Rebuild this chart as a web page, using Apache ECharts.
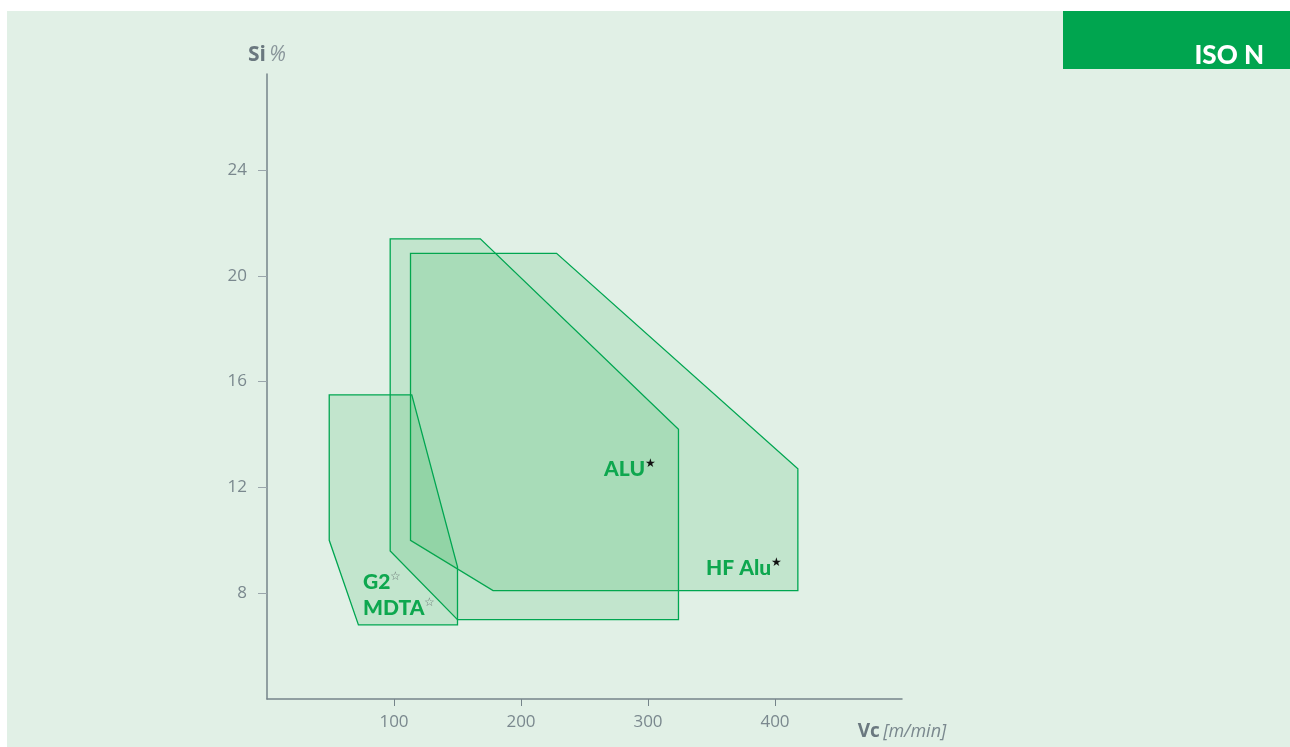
<!DOCTYPE html>
<html>
<head>
<meta charset="utf-8">
<script src="https://cdn.jsdelivr.net/npm/echarts@6/dist/echarts.min.js"></script>
<style>html,body{margin:0;padding:0;background:#fff}#c{width:1290px;height:747px}</style>
</head>
<body>
<div id="c"></div>
<script>
// ---- data ----
const xTicks = [100, 200, 300, 400];
const yTicks = [8, 12, 16, 20, 24];
const polyNames = ['HF Alu', 'ALU', 'G2 / MDTA'];
const hfX  = [113, 228, 418, 418, 178, 113];
const hfY  = [20.85, 20.85, 12.7, 8.1, 8.1, 10.0];
const aluX = [97, 168, 324, 324, 150, 97];
const aluY = [21.4, 21.4, 14.2, 7.0, 7.0, 9.6];
const g2X  = [49, 114, 150, 150, 72, 49];
const g2Y  = [15.5, 15.5, 9.0, 6.8, 6.8, 10.0];
const labelNames = ['ALU', 'HF Alu', 'G2', 'MDTA'];
const labelStars = ['★', '★', '☆', '☆'];
const labelX = [265.4, 345.7, 75.6, 75.6];
const labelY = [12.7, 8.95, 8.43, 7.44];

const GREEN = '#00a651';
const FONT = '"Open Sans", Lato, sans-serif';
const BFONT = 'Lato, "Open Sans", sans-serif';

function polySeries(name, xs, ys) {
  return {
    type: 'custom', name: name,
    data: [0],
    renderItem: function (params, api) {
      const pts = xs.map((x, i) => api.coord([x, ys[i]]));
      return {
        type: 'polygon',
        shape: { points: pts },
        style: { fill: 'rgba(20,165,70,0.15)', stroke: GREEN, lineWidth: 1.3 }
      };
    },
    silent: true
  };
}

const labelData = labelNames.map((n, i) => [labelX[i], labelY[i], n, labelStars[i]]);

const chart = echarts.init(document.getElementById('c'));
chart.setOption({
  animation: false,
  backgroundColor: '#ffffff',
  grid: { left: 267, top: 74, width: 635, height: 625, containLabel: false },
  graphic: [
    { type: 'rect', z: -10, silent: true, shape: { x: 7, y: 11, width: 1283, height: 736 }, style: { fill: '#e1f0e6' } },
    { type: 'rect', z: 10, silent: true, shape: { x: 1063, y: 11, width: 227, height: 58 }, style: { fill: '#00a54f' } },
    { type: 'text', z: 11, silent: true, style: { x: 1264, y: 56, text: 'ISO N', fill: '#ffffff', font: '900 26px ' + BFONT, textAlign: 'right', textVerticalAlign: 'middle' } }
  ],
  xAxis: {
    type: 'value', min: 0, max: 500,
    splitLine: { show: false },
    axisLine: { show: true, lineStyle: { color: '#75848a', width: 1.5 } },
    axisTick: { show: true, length: 7, customValues: xTicks, lineStyle: { color: '#75848a', width: 1 } },
    axisLabel: { customValues: xTicks, color: '#7a888e', fontSize: 17, fontFamily: FONT, margin: 15 },
    name: '{b|Vc} {i|[m/min]}',
    nameLocation: 'end', nameGap: 0,
    nameTextStyle: {
      align: 'center', verticalAlign: 'top', padding: [23, 0, 0, 0],
      rich: {
        b: { fontSize: 19, fontWeight: 'bold', color: '#6a787f', fontFamily: FONT },
        i: { fontSize: 18, fontStyle: 'italic', color: '#7a888e', fontFamily: FONT }
      }
    }
  },
  yAxis: {
    type: 'value', min: 4, max: 27.63,
    splitLine: { show: false },
    axisLine: { show: true, lineStyle: { color: '#75848a', width: 1.5 } },
    axisTick: { show: true, length: 9, customValues: yTicks, lineStyle: { color: '#9aa6ab', width: 1 } },
    axisLabel: { customValues: yTicks, color: '#7a888e', fontSize: 17, fontFamily: FONT, margin: 20 },
    name: '{b|Si} {i|%}',
    nameLocation: 'end', nameGap: 19,
    nameTextStyle: {
      align: 'center', verticalAlign: 'middle',
      rich: {
        b: { fontSize: 21, fontWeight: 'bold', color: '#6a787f', fontFamily: FONT },
        i: { fontSize: 21, fontStyle: 'italic', color: '#8a969b', fontFamily: FONT }
      }
    }
  },
  series: [
    polySeries(polyNames[0], hfX, hfY),
    polySeries(polyNames[1], aluX, aluY),
    polySeries(polyNames[2], g2X, g2Y),
    {
      type: 'custom', name: 'labels', data: labelData, z: 5,
      renderItem: function (params, api) {
        const p = api.coord([api.value(0), api.value(1)]);
        const d = labelData[params.dataIndex];
        const star = d[3];
        return {
          type: 'text',
          x: p[0], y: p[1],
          style: {
            text: '{a|' + d[2] + '}{s|' + star + '}',
            textAlign: 'left', textVerticalAlign: 'middle',
            rich: {
              a: { fontSize: 21, fontWeight: 900, fill: '#0ea74f', fontFamily: BFONT, lineHeight: 22 },
              s: { fontSize: 12, fill: star === '★' ? '#111111' : '#6f7c7a', verticalAlign: 'top', lineHeight: 22, padding: [0, 0, 8, 0] }
            }
          }
        };
      },
      silent: true
    }
  ]
});
</script>
</body>
</html>
